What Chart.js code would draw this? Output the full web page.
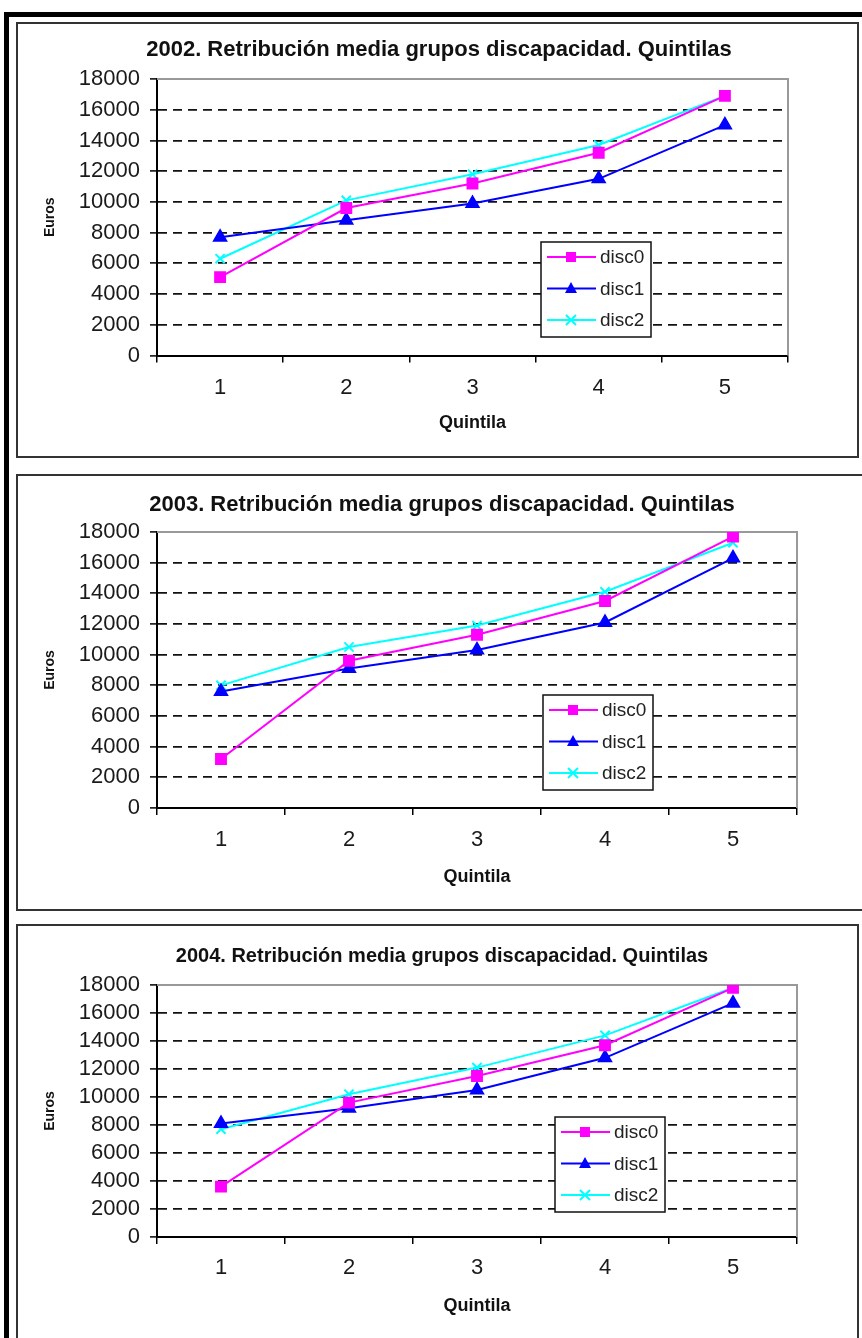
<!DOCTYPE html>
<html lang="es">
<head>
<meta charset="utf-8">
<title>Retribución media grupos discapacidad. Quintilas</title>
<script src="https://cdn.jsdelivr.net/npm/chart.js@4.4.1/dist/chart.umd.min.js"></script>
<style>
    body { margin: 0; background: #fff; width: 862px; height: 1338px; overflow: hidden; position: relative; }
    #marco { position: absolute; left: 4px; top: 12px; width: 900px; height: 1400px; border-top: 5px solid #000; border-left: 5px solid #000; }
    .caja { position: absolute; left: 16px; border: 2px solid #333; box-sizing: border-box; background: #fff; }
    .caja canvas { display: block; }
</style>
</head>
<body>
<div id="marco"></div>
<div class="caja" style="top:22px; width:843px; height:436px;"><canvas id="g2002" width="839" height="432"></canvas></div>
<div class="caja" style="top:474px; width:850px; height:437px;"><canvas id="g2003" width="846" height="433"></canvas></div>
<div class="caja" style="top:924px; width:843px; height:424px;"><canvas id="g2004" width="839" height="420"></canvas></div>

<script>
// datos
const quintilas = ["1", "2", "3", "4", "5"];
const ticksEuros = [0, 2000, 4000, 6000, 8000, 10000, 12000, 14000, 16000, 18000];
const nombresSeries = ["disc0", "disc1", "disc2"];

const disc0_2002 = [5100, 9600, 11200, 13200, 16900];
const disc1_2002 = [7700, 8800, 9900, 11500, 15000];
const disc2_2002 = [6300, 10100, 11800, 13700, 16900];

const disc0_2003 = [3200, 9600, 11300, 13500, 17700];
const disc1_2003 = [7600, 9100, 10300, 12100, 16300];
const disc2_2003 = [8000, 10500, 11900, 14100, 17300];

const disc0_2004 = [3600, 9600, 11500, 13700, 17800];
const disc1_2004 = [8100, 9200, 10500, 12800, 16700];
const disc2_2004 = [7700, 10200, 12100, 14400, 17800];

const fuente = "'Liberation Sans', Arial, sans-serif";
const estilos = [
    { color: "#ff00ff", punto: "rect", radio: 7 },
    { color: "#0000ff", punto: "triangle", radio: 7 },
    { color: "#00ffff", punto: "crossRot", radio: 6.5 }
];

// caja de leyenda dentro del area del grafico
function dibujarMarca(ctx, estilo, x, y, color) {
    ctx.fillStyle = color;
    ctx.strokeStyle = color;
    ctx.lineWidth = 2;
    if (estilo == "rect") {
        ctx.fillRect(x - 5, y - 5, 10, 10);
    } else if (estilo == "triangle") {
        ctx.beginPath();
        ctx.moveTo(x, y - 6.5);
        ctx.lineTo(x + 6, y + 4.5);
        ctx.lineTo(x - 6, y + 4.5);
        ctx.closePath();
        ctx.fill();
    } else {
        ctx.beginPath();
        ctx.moveTo(x - 5, y - 5); ctx.lineTo(x + 5, y + 5);
        ctx.moveTo(x + 5, y - 5); ctx.lineTo(x - 5, y + 5);
        ctx.stroke();
    }
}

const leyendaCaja = {
    id: "leyendaCaja",
    afterDatasetsDraw(chart, args, opts) {
        const ctx = chart.ctx;
        const area = chart.chartArea;
        const x = area.left + opts.dx;
        const y = area.top + opts.dy;
        ctx.save();
        ctx.fillStyle = "#fff";
        ctx.fillRect(x, y, 110, 95);
        ctx.strokeStyle = "#111";
        ctx.lineWidth = 1.5;
        ctx.strokeRect(x, y, 110, 95);
        chart.data.datasets.forEach((ds, i) => {
            const yy = y + 15 + i * 31.5;
            ctx.strokeStyle = ds.borderColor;
            ctx.lineWidth = 2;
            ctx.beginPath();
            ctx.moveTo(x + 6, yy);
            ctx.lineTo(x + 55, yy);
            ctx.stroke();
            dibujarMarca(ctx, ds.pointStyle, x + 30, yy, ds.borderColor);
            ctx.fillStyle = "#222";
            ctx.font = "19px " + fuente;
            ctx.textBaseline = "middle";
            ctx.fillText(ds.label, x + 59, yy + 1);
        });
        ctx.restore();
    }
};

// borde gris arriba y a la derecha del area de trazado
const marcoGris = {
    id: "marcoGris",
    beforeDatasetsDraw(chart) {
        const ctx = chart.ctx;
        const a = chart.chartArea;
        ctx.save();
        ctx.strokeStyle = "#999";
        ctx.lineWidth = 2;
        ctx.beginPath();
        ctx.moveTo(a.left, a.top);
        ctx.lineTo(a.right, a.top);
        ctx.lineTo(a.right, a.bottom);
        ctx.stroke();
        ctx.restore();
    }
};

function crearGrafico(idCanvas, anio, series, diseno) {
    const ctx = document.getElementById(idCanvas).getContext("2d");
    const datasets = series.map((valores, i) => ({
        label: nombresSeries[i],
        data: valores,
        yAxisID: "y",
        borderColor: estilos[i].color,
        backgroundColor: estilos[i].color,
        pointStyle: estilos[i].punto,
        pointRadius: estilos[i].radio,
        pointBorderWidth: 2,
        borderWidth: 2,
        tension: 0
    }));

    return new Chart(ctx, {
        type: "line",
        data: { labels: quintilas, datasets: datasets },
        options: {
            responsive: false,
            animation: false,
            layout: { padding: { left: 24, right: diseno.derecha, top: 0, bottom: 0 } },
            plugins: {
                legend: { display: false },
                tooltip: { enabled: false },
                title: {
                    display: true,
                    text: anio + ". Retribución media grupos discapacidad. Quintilas",
                    color: "#111",
                    font: { family: fuente, size: diseno.tituloTam, weight: "bold" },
                    padding: { top: diseno.tituloArriba, bottom: diseno.tituloAbajo }
                },
                leyendaCaja: { dx: diseno.leyendaX, dy: diseno.leyendaY }
            },
            scales: {
                x: {
                    offset: true,
                    afterFit: (s) => { s.height = diseno.altoX; },
                    grid: { offset: true, drawOnChartArea: false, tickLength: 7, color: "#000", lineWidth: 1.5 },
                    border: { color: "#000", width: 2 },
                    ticks: { color: "#1a1a1a", font: { family: fuente, size: 22 }, padding: diseno.padX, maxRotation: 0 },
                    title: {
                        display: true, text: "Quintila", color: "#111",
                        font: { family: fuente, size: 18, weight: "bold" },
                        padding: { top: 0, bottom: diseno.padQuintila }
                    }
                },
                y: {
                    min: ticksEuros[0],
                    max: ticksEuros[ticksEuros.length - 1],
                    afterFit: (s) => { s.width = 115; },
                    grid: {
                        color: (c) => (c.tick && (c.tick.value == 0 || c.tick.value == 18000)) ? "rgba(0,0,0,0)" : "#111",
                        lineWidth: 1.8,
                        tickLength: 7,
                        tickColor: "#000",
                        tickWidth: 1.5
                    },
                    border: { color: "#000", width: 2, dash: [9, 6] },
                    ticks: {
                        stepSize: ticksEuros[1] - ticksEuros[0],
                        autoSkip: false,
                        color: "#1a1a1a",
                        font: { family: fuente, size: 22 },
                        padding: 10,
                        callback: (v) => String(v)
                    },
                    title: {
                        display: true, text: "Euros", color: "#111",
                        font: { family: fuente, size: 14, weight: "bold" },
                        padding: { top: 0, bottom: 0 }
                    }
                },
                // eje vacio a la derecha, solo ocupa espacio para centrar el titulo
                yDer: {
                    position: "right",
                    afterFit: (s) => { s.width = diseno.huecoDer; },
                    grid: { display: false },
                    border: { display: false },
                    ticks: { display: false }
                }
            }
        },
        plugins: [marcoGris, leyendaCaja]
    });
}

crearGrafico("g2002", 2002, [disc0_2002, disc1_2002, disc2_2002], {
    derecha: 21, huecoDer: 48, tituloTam: 22, tituloArriba: 13, tituloAbajo: 15.6,
    altoX: 100.5, padX: 12.3, padQuintila: 22, leyendaX: 384, leyendaY: 163
});
crearGrafico("g2003", 2003, [disc0_2003, disc1_2003, disc2_2003], {
    derecha: 22, huecoDer: 45, tituloTam: 22, tituloArriba: 16, tituloAbajo: 13.6,
    altoX: 101, padX: 11.8, padQuintila: 21, leyendaX: 386, leyendaY: 163
});
crearGrafico("g2004", 2004, [disc0_2004, disc1_2004, disc2_2004], {
    derecha: 15, huecoDer: 45, tituloTam: 20, tituloArriba: 18, tituloAbajo: 17,
    altoX: 109, padX: 10.8, padQuintila: 29, leyendaX: 398, leyendaY: 132
});
</script>
</body>
</html>
